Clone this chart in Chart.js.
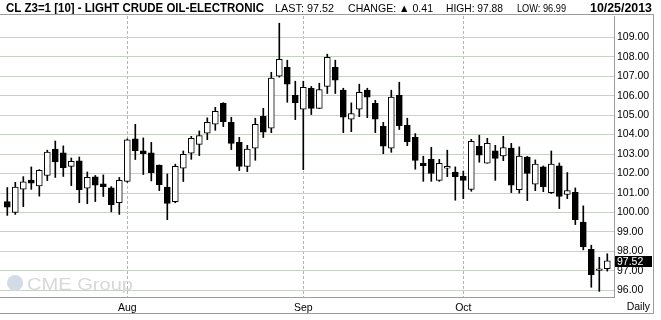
<!DOCTYPE html>
<html>
<head>
<meta charset="utf-8">
<script src="https://cdn.jsdelivr.net/npm/chart.js@4.4.1/dist/chart.umd.min.js"></script>
<style>
  html, body { margin: 0; padding: 0; background: #fff; }
  #wrap { position: relative; width: 661px; height: 320px; }
</style>
</head>
<body>
<div id="wrap"><canvas id="chart"></canvas></div>
<script>
// CL Z3 daily candles, Jul 11 - Oct 25 2013

const dates = [
  "7/11","7/12","7/15","7/16","7/17","7/18","7/19","7/22","7/23","7/24","7/25","7/26","7/29","7/30","7/31",
  "8/1","8/2","8/5","8/6","8/7","8/8","8/9","8/12","8/13","8/14","8/15","8/16","8/19","8/20","8/21","8/22","8/23","8/26","8/27","8/28","8/29","8/30",
  "9/3","9/4","9/5","9/6","9/9","9/10","9/11","9/12","9/13","9/16","9/17","9/18","9/19","9/20","9/23","9/24","9/25","9/26","9/27","9/30",
  "10/1","10/2","10/3","10/4","10/7","10/8","10/9","10/10","10/11","10/14","10/15","10/16","10/17","10/18","10/21","10/22","10/23","10/24","10/25"
];

const openP = [
  100.56,100.00,101.20,101.66,101.36,101.90,103.26,103.06,102.37,102.65,101.25,101.83,101.47,101.26,100.50,
  101.60,103.78,103.16,103.06,102.44,101.31,100.56,102.27,103.04,103.50,104.07,104.53,105.61,104.63,103.60,102.37,103.30,104.94,104.33,107.00,107.46,
  106.02,105.30,106.38,105.35,106.48,107.46,106.28,104.79,105.30,106.28,105.61,104.43,103.30,106.02,104.48,103.86,102.53,102.73,101.65,102.27,
  102.07,101.86,101.19,103.40,102.53,103.16,102.90,103.31,101.17,102.85,101.45,102.34,101.02,102.39,100.93,101.04,99.51,98.11,97.03,97.11
];
const highP = [
  101.28,101.55,101.84,102.34,102.20,103.20,103.67,103.42,102.80,102.85,102.08,101.90,101.93,101.33,101.80,
  103.78,104.53,103.83,103.60,102.44,101.98,102.48,103.16,103.91,104.19,104.86,105.40,105.64,104.89,103.86,103.45,104.84,105.35,107.20,109.72,107.82,
  106.74,106.74,106.47,106.64,108.13,107.82,106.38,105.63,106.59,106.38,105.76,104.63,106.28,106.69,104.84,104.05,102.89,103.35,102.73,103.20,
  102.34,102.13,103.76,103.97,103.81,103.45,103.91,103.55,103.37,102.88,102.70,102.39,103.16,102.54,102.05,101.26,100.34,98.32,97.70,97.88
];
const lowP = [
  99.85,99.90,100.30,101.19,100.84,101.64,101.80,101.85,101.38,100.50,100.45,100.56,100.82,100.03,99.90,
  101.55,102.72,101.95,101.62,101.12,99.63,100.50,101.59,102.73,102.92,103.74,104.22,104.41,103.23,102.15,102.10,102.68,103.85,104.10,106.95,105.66,
  104.77,102.20,105.03,105.33,106.11,106.11,104.10,104.15,104.92,104.87,104.10,103.02,103.09,104.26,103.43,102.22,101.60,101.60,101.60,101.84,
  100.63,100.71,101.09,102.58,102.53,101.65,102.66,101.02,100.99,100.61,101.12,101.07,100.97,100.20,100.71,99.38,98.08,96.16,95.95,96.99
];
const closeP = [
  100.27,101.30,101.57,101.50,102.17,103.10,102.60,102.30,102.63,101.17,101.81,101.40,101.33,100.40,101.65,
  103.73,103.18,103.02,102.05,101.43,100.46,102.37,102.99,103.81,103.95,104.63,105.20,104.67,103.55,102.37,103.25,104.53,104.12,106.90,107.87,106.59,
  105.64,106.43,105.35,106.31,107.97,106.79,104.89,105.08,106.17,105.92,104.79,103.40,105.92,104.46,103.64,102.68,102.41,102.00,102.53,102.37,
  101.84,101.65,103.66,102.94,103.55,102.78,103.33,101.40,102.90,102.01,102.48,101.33,102.48,100.82,101.12,99.63,98.23,96.81,97.11,97.52
];

const monthNames = ["Aug", "Sep", "Oct"];
const monthStarts = ["8/1", "9/3", "10/1"];
const priceTicks = [96, 97, 98, 99, 100, 101, 102, 103, 104, 105, 106, 107, 108, 109];

const headerTitle = "CL Z3=1 [10] - LIGHT CRUDE OIL-ELECTRONIC";
const headerLast = "LAST: 97.52";
const headerChange = "CHANGE: \u25B2 0.41";
const headerHigh = "HIGH: 97.88";
const headerLow = "LOW: 96.99";
const headerDate = "10/25/2013";
const lastPrice = 97.52;

const FONT = "'Liberation Sans', Arial, 'DejaVu Sans', sans-serif";

// candle bodies and wicks as floating bars
const bodies = dates.map((d, i) => ({ x: i, y: [Math.min(openP[i], closeP[i]), Math.max(openP[i], closeP[i])] }));
const wicks = dates.map((d, i) => ({ x: i, y: [lowP[i], highP[i]] }));
const bodyColors = dates.map((d, i) => closeP[i] >= openP[i] ? "#ffffff" : "#000000");

// draw text squeezed/stretched into [x0, x1]
function fitText(ctx, txt, x0, x1, baseline, font){
  ctx.save();
  ctx.font = font;
  const w = ctx.measureText(txt).width;
  ctx.translate(x0, baseline);
  ctx.scale((x1 - x0) / w, 1);
  ctx.textBaseline = "alphabetic";
  ctx.textAlign = "left";
  ctx.fillText(txt, 0, 0);
  ctx.restore();
}

const framePlugin = {
  id: "frame",
  beforeDraw(chart){
    const ctx = chart.ctx;
    ctx.save();
    ctx.fillStyle = "#fff";
    ctx.fillRect(0, 0, chart.width, chart.height);
    ctx.restore();
  },
  beforeDatasetsDraw(chart){
    // faint CME Group watermark
    const ctx = chart.ctx;
    ctx.save();
    ctx.fillStyle = "#d3dbe6";
    ctx.beginPath();
    ctx.arc(15, 283, 8, 0, Math.PI * 2);
    ctx.fill();
    ctx.fillStyle = "#d6d8da";
    fitText(ctx, "CME Group", 27, 133, 290, "17px " + FONT);
    ctx.restore();
  },
  afterDraw(chart){
    const ctx = chart.ctx;
    const y = chart.scales.y;
    ctx.save();
    ctx.fillStyle = "#000";
    fitText(ctx, headerTitle, 6, 264, 12, "bold 13px " + FONT);
    fitText(ctx, headerLast, 275, 334, 12, "11px " + FONT);
    fitText(ctx, headerChange, 348, 433, 12, "11px " + FONT);
    fitText(ctx, headerHigh, 446, 503, 12, "11px " + FONT);
    fitText(ctx, headerLow, 517, 566, 12, "11px " + FONT);
    fitText(ctx, headerDate, 590, 652, 12, "bold 13px " + FONT);

    // frame lines
    ctx.strokeStyle = "#9c9c9c";
    ctx.lineWidth = 1;
    ctx.beginPath();
    ctx.moveTo(0, 14.5); ctx.lineTo(654, 14.5);
    ctx.moveTo(653.5, 14.5); ctx.lineTo(653.5, 313.5);
    ctx.moveTo(0, 313.5); ctx.lineTo(654, 313.5);
    ctx.stroke();

    // last price box
    const py = Math.round(y.getPixelForValue(lastPrice));
    ctx.fillStyle = "#000";
    ctx.fillRect(615, py - 5, 37, 11);
    ctx.fillStyle = "#fff";
    ctx.font = "10.5px " + FONT;
    ctx.textBaseline = "middle";
    ctx.textAlign = "left";
    ctx.fillText(lastPrice.toFixed(2), 617, py + 1);

    ctx.fillStyle = "#000";
    ctx.textAlign = "right";
    ctx.fillText("Daily", 650, 307);
    ctx.restore();
  }
};

new Chart(document.getElementById("chart"), {
  type: "bar",
  data: {
    datasets: [
      {
        label: "Body",
        data: bodies,
        backgroundColor: bodyColors,
        borderColor: "#000",
        borderWidth: 1,
        borderSkipped: false,
        barThickness: 6,
        grouped: false
      },
      {
        label: "Range",
        data: wicks,
        backgroundColor: "#000",
        borderWidth: 0,
        barThickness: 1,
        grouped: false
      }
    ]
  },
  options: {
    responsive: true,
    maintainAspectRatio: false,
    devicePixelRatio: 1,
    animation: false,
    layout: { padding: { top: 16, left: 0, right: 0, bottom: 0 } },
    plugins: {
      legend: { display: false },
      tooltip: { enabled: false }
    },
    scales: {
      x: {
        type: "linear",
        offset: false,
        min: -0.9125,
        max: 75.8375,
        afterBuildTicks: s => { s.ticks = monthStarts.map(d => ({ value: dates.indexOf(d) })); },
        afterFit: s => { s.height = 23; },
        ticks: {
          autoSkip: false,
          maxRotation: 0,
          padding: 5,
          color: "#000",
          font: { family: FONT, size: 10.5 },
          callback: (v, i) => monthNames[i]
        },
        grid: { offset: false, color: "#b4b4b4", drawTicks: false },
        border: { display: true, color: "#9c9c9c", dash: [3, 2] }
      },
      y: {
        position: "right",
        min: 95.66,
        max: 110.09,
        afterBuildTicks: s => { s.ticks = priceTicks.map(v => ({ value: v })); },
        afterFit: s => { s.width = 47; },
        ticks: {
          padding: 3,
          color: "#000",
          font: { family: FONT, size: 10.5 },
          callback: v => Number(v).toFixed(2)
        },
        grid: { color: "#c9d1c6", drawTicks: false },
        border: { display: true, color: "#9c9c9c" }
      }
    }
  },
  plugins: [framePlugin]
});
</script>
</body>
</html>
